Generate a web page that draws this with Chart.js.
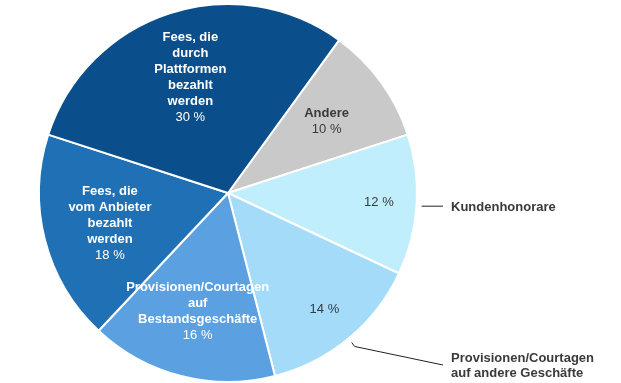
<!DOCTYPE html>
<html lang="de">
<head>
  <meta charset="UTF-8">
  <title>Vergütungsquellen</title>
  <script src="https://cdn.jsdelivr.net/npm/chart.js"></script>
  <style>
    html, body { margin: 0; padding: 0; background: #fff; }
    #wrap { width: 621px; height: 383px; }
  </style>
</head>
<body>
  <div id="wrap"><canvas id="pie" width="621" height="383"></canvas></div>
  <script>
    // slices, clockwise from the top-right
    const categories = [
      'Andere',
      'Kundenhonorare',
      'Provisionen/Courtagen auf andere Geschäfte',
      'Provisionen/Courtagen auf Bestandsgeschäfte',
      'Fees, die vom Anbieter bezahlt werden',
      'Fees, die durch Plattformen bezahlt werden'
    ];
    const shares = [10, 12, 14, 16, 18, 30];
    const sliceColors = ['#c9c9c9', '#c1eefc', '#a3dbf9', '#5ba0e0', '#1f70b4', '#0a4f8c'];

    // text drawn inside the slices (null = outside label instead)
    const insideNames = [
      ['Andere'],
      null,
      null,
      ['Provisionen/Courtagen', 'auf', 'Bestandsgeschäfte'],
      ['Fees, die', 'vom Anbieter', 'bezahlt', 'werden'],
      ['Fees, die', 'durch', 'Plattformen', 'bezahlt', 'werden']
    ];
    const outsideNames = [
      null,
      ['Kundenhonorare'],
      ['Provisionen/Courtagen', 'auf andere Geschäfte'],
      null, null, null
    ];
    const darkText = [true, true, true, false, false, false];

    const FONT = '"Liberation Sans", Arial, sans-serif';

    const labelPlugin = {
      id: 'sliceLabels',
      afterDatasetsDraw(chart) {
        const ctx = chart.ctx;
        const arcs = chart.getDatasetMeta(0).data;
        ctx.save();
        ctx.textAlign = 'center';
        ctx.textBaseline = 'middle';
        arcs.forEach((arc, i) => {
          const mid = (arc.startAngle + arc.endAngle) / 2;
          const r = arc.outerRadius;
          const names = insideNames[i];
          const frac = names ? 0.645 : 0.8;
          const cx = arc.x + Math.cos(mid) * r * frac;
          const cy = arc.y + Math.sin(mid) * r * frac;
          const lines = (names || []).concat([shares[i] + ' %']);
          const lh = 16;
          let y = cy - (lines.length - 1) * lh / 2;
          lines.forEach((t, k) => {
            const isPct = k === lines.length - 1;
            ctx.font = (isPct ? '' : 'bold ') + '13px ' + FONT;
            ctx.fillStyle = darkText[i] ? '#3a3a3a' : '#ffffff';
            ctx.fillText(t, cx, y);
            y += lh;
          });

          const out = outsideNames[i];
          if (out) {
            const sx = arc.x + Math.cos(mid) * (r + 5);
            const sy = arc.y + Math.sin(mid) * (r + 5);
            const tx = 451;
            ctx.strokeStyle = '#222';
            ctx.lineWidth = 1;
            ctx.beginPath();
            if (out.length === 1) {
              ctx.moveTo(sx, sy + 1);
              ctx.lineTo(443, sy + 1);
              ctx.stroke();
              ctx.textAlign = 'left';
              ctx.font = 'bold 13px ' + FONT;
              ctx.fillStyle = '#3a3a3a';
              ctx.fillText(out[0], tx, sy + 2);
            } else {
              ctx.moveTo(sx, sy);
              ctx.lineTo(sx + 3, sy + 4);
              ctx.lineTo(443, 365);
              ctx.stroke();
              ctx.textAlign = 'left';
              ctx.font = 'bold 13px ' + FONT;
              ctx.fillStyle = '#3a3a3a';
              ctx.fillText(out[0], tx, 358);
              ctx.fillText(out[1], tx, 373);
            }
            ctx.textAlign = 'center';
          }
        });
        ctx.restore();
      }
    };

    new Chart(document.getElementById('pie'), {
      type: 'pie',
      data: {
        labels: categories,
        datasets: [{
          data: shares,
          backgroundColor: sliceColors,
          borderColor: '#ffffff',
          borderWidth: 2
        }]
      },
      options: {
        responsive: false,
        animation: false,
        rotation: 36,
        layout: { padding: { left: 38, right: 203, top: 3, bottom: 0 } },
        plugins: {
          legend: { display: false },
          tooltip: { enabled: false }
        }
      },
      plugins: [labelPlugin]
    });
  </script>
</body>
</html>
